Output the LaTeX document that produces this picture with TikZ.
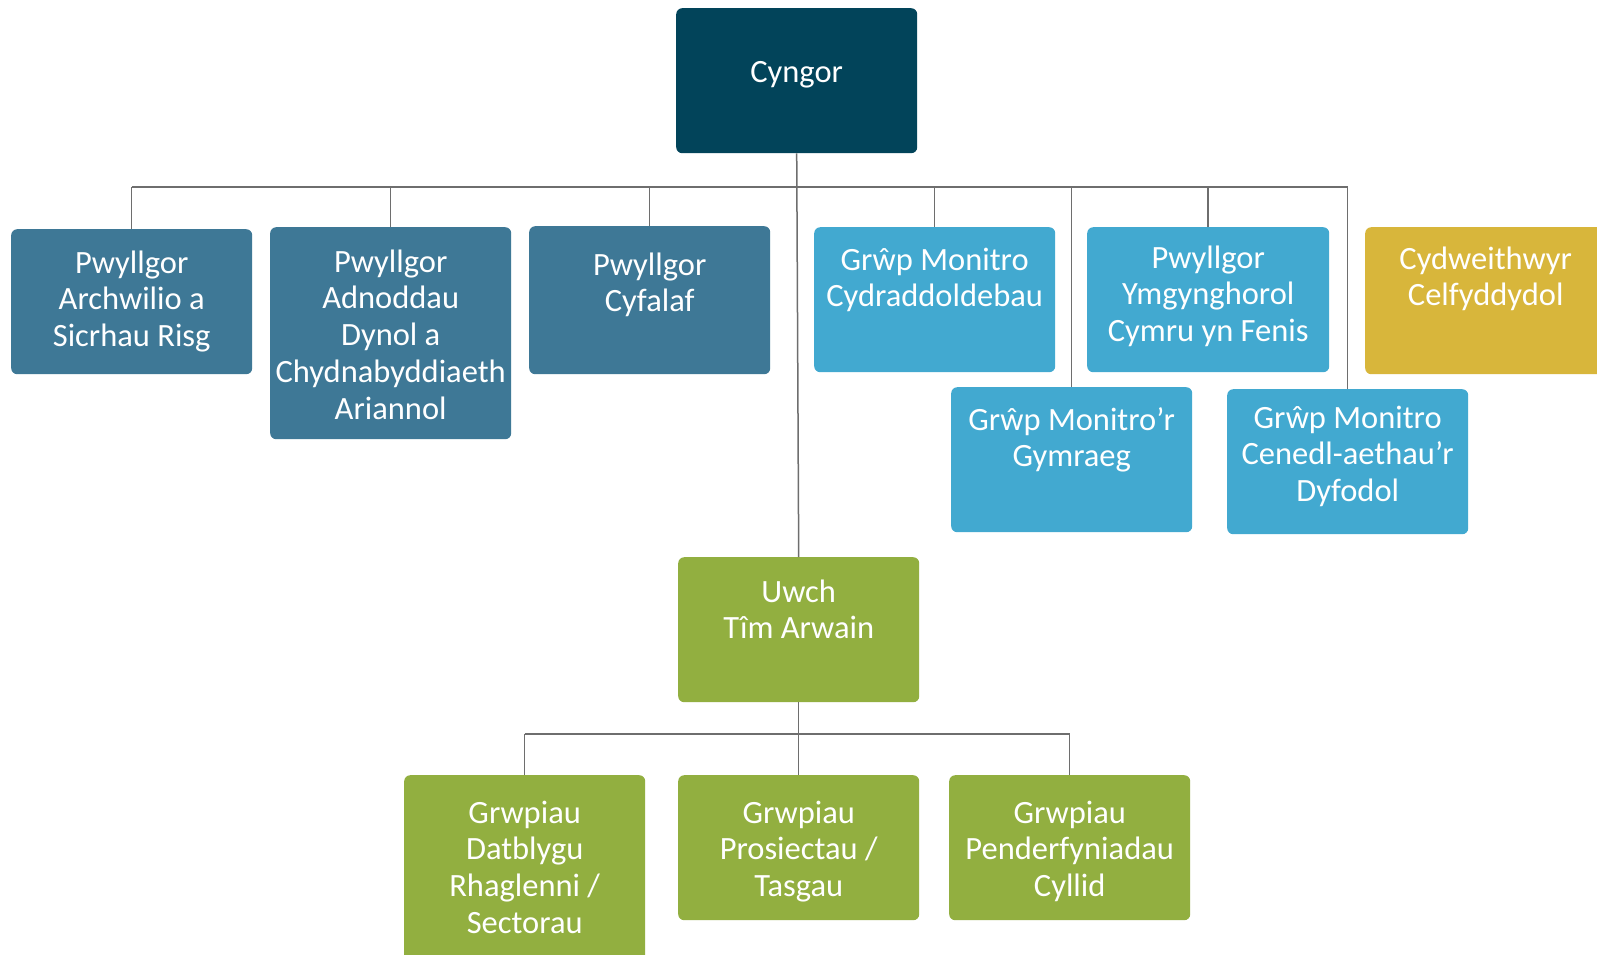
\documentclass[tikz,border=0pt]{standalone}
\usepackage{fontspec}
\setmainfont{Carlito}
\definecolor{cdark}{HTML}{02445A}
\definecolor{cblue}{HTML}{3E7896}
\definecolor{clight}{HTML}{42A9D0}
\definecolor{cgold}{HTML}{D8B63B}
\definecolor{cgreen}{HTML}{92AF40}
\definecolor{cline}{HTML}{6E6E6E}
\newcommand{\fl}{\rule{0pt}{25pt}}
\begin{document}
\begin{tikzpicture}[x=1pt,y=-1pt,
  box/.style={rectangle, rounded corners=6pt, minimum width=241pt, minimum height=145pt, inner sep=0pt, draw=none, anchor=north west},
  lbl/.style={text=white, align=center, font=\fontsize{32.5}{36.7}\selectfont, inner sep=0pt, anchor=north},
  conn/.style={draw=cline, line width=1.5pt}]
\useasboundingbox (0,0) rectangle (1597,954);
\clip (0,0) rectangle (1597,954);
\fill[white] (0,0) rectangle (1597,954);
% boxes
\node[box, fill=cdark] (cyngor) at (676,8) {};
\node[box, fill=cblue] (b1) at (11,229) {};
\node[box, fill=cblue, minimum height=212pt] (b2) at (270,227) {};
\node[box, fill=cblue, minimum height=148pt] (b3) at (529,226) {};
\node[box, fill=clight] (b4) at (814,227) {};
\node[box, fill=clight, minimum width=242pt] (b5) at (1087,227) {};
\node[box, fill=cgold, minimum height=147pt] (b6) at (1365,227) {};
\node[box, fill=clight] (b7) at (951,387) {};
\node[box, fill=clight] (b8) at (1227,389) {};
\node[box, fill=cgreen] (uwch) at (678,557) {};
\node[box, fill=cgreen, minimum height=200pt] (g1) at (404,775) {};
\node[box, fill=cgreen] (g2) at (678,775) {};
\node[box, fill=cgreen] (g3) at (949,775) {};
% labels
\node[lbl] at ([yshift=-49pt]cyngor.north) {\fl Cyngor};
\node[lbl] at ([yshift=-19pt]b1.north) {\fl Pwyllgor\\Archwilio a\\Sicrhau Risg};
\node[lbl] at ([yshift=-20pt]b2.north) {\fl Pwyllgor\\Adnoddau\\Dynol a\\Chydnabyddiaeth\\Ariannol};
\node[lbl] at ([yshift=-24pt]b3.north) {\fl Pwyllgor\\Cyfalaf};
\node[lbl] at ([yshift=-18pt]b4.north) {\fl Grŵp Monitro\\Cydraddoldebau};
\node[lbl] at ([yshift=-16pt]b5.north) {\fl Pwyllgor\\Ymgynghorol\\Cymru yn Fenis};
\node[lbl] at ([yshift=-17pt]b6.north) {\fl Cydweithwyr\\Celfyddydol};
\node[lbl] at ([yshift=-18pt]b7.north) {\fl Grŵp Monitro’r\\Gymraeg};
\node[lbl] at ([yshift=-14pt]b8.north) {\fl Grŵp Monitro\\Cenedl-aethau’r\\Dyfodol};
\node[lbl] at ([yshift=-20pt]uwch.north) {\fl Uwch\\Tîm Arwain};
\node[lbl] at ([yshift=-23pt]g1.north) {\fl Grwpiau\\Datblygu\\Rhaglenni /\\Sectorau};
\node[lbl] at ([yshift=-23pt]g2.north) {\fl Grwpiau\\Prosiectau /\\Tasgau};
\node[lbl] at ([yshift=-23pt]g3.north) {\fl Grwpiau\\Penderfyniadau\\Cyllid};
% connectors
\coordinate (hy) at (0,187);
\coordinate (by) at (0,734);
\draw[conn] (cyngor.south) -- (uwch.north);
\draw[conn] (b1.north |- hy) -- (b8.north |- hy);
\foreach \b in {b1,b2,b3,b4,b5,b7,b8}{
  \draw[conn] (\b.north |- hy) -- (\b.north);
}
\draw[conn] (uwch.south) -- (uwch.south |- by);
\draw[conn] (g1.north |- by) -- (g3.north |- by);
\foreach \b in {g1,g2,g3}{
  \draw[conn] (\b.north |- by) -- (\b.north);
}
\end{tikzpicture}
\end{document}
